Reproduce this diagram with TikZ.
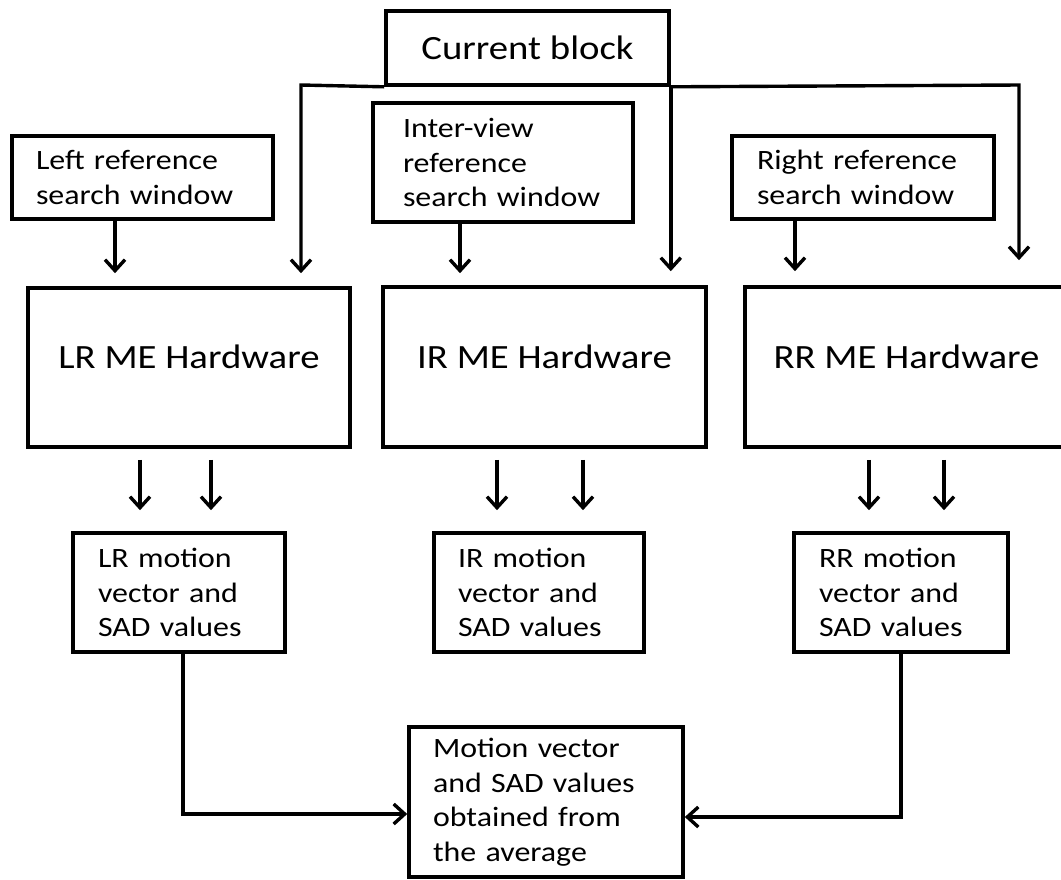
\documentclass[tikz,border=0pt]{standalone}
\usepackage{fontspec}
\setmainfont{Carlito}[FakeStretch=1.14]
\usetikzlibrary{arrows.meta,calc}
\begin{document}
\begin{tikzpicture}[x=1pt,y=-1pt,
  box/.style={draw, line width=3.6pt, inner ysep=0pt, align=left, font=\fontsize{28}{34.5}\selectfont},
  big/.style={draw, line width=3.6pt, inner sep=0pt, align=center, font=\fontsize{34}{40}\selectfont},
  arr/.style={line width=3.4pt, -{Straight Barb[length=11pt,width=20pt]}}]
\fill[white] (0,0) rectangle (1061,879);
\useasboundingbox (0,0) rectangle (1061,879);
\clip (0,0) rectangle (1061,879);

% current block
\node[big, minimum width=283pt, minimum height=74pt] (cur) at (527.5,48) {Current block};
\coordinate (jl) at (301,85);
\coordinate (jr) at (1019,85);

% reference windows
\node[box, minimum height=83pt, text width=213pt, inner xsep=24pt] (LRef) at (142.5,177.5) {Left reference\\search window};
\node[box, minimum height=119pt, text width=200pt, inner xsep=30pt] (IRef) at (503,162.5) {Inter-view\\reference\\search window};
\node[box, minimum height=83pt, text width=212pt, inner xsep=25pt] (RRef) at (863,177.5) {Right reference\\search window};

% ME hardware
\node[big, minimum width=322pt, minimum height=159pt] (LRME) at (189,367.5) {\raisebox{21pt}{LR ME Hardware}};
\node[big, minimum width=323pt, minimum height=160pt] (IRME) at (544.5,367) {\raisebox{21pt}{IR ME Hardware}};
\node[big, minimum width=323pt, minimum height=160pt] (RRME) at (906.5,367) {\raisebox{21pt}{RR ME Hardware}};

% motion vector boxes
\node[box, minimum height=119pt, text width=162pt, inner xsep=25pt] (LRmv) at (179,592.5) {LR motion\\vector and\\SAD values};
\node[box, minimum height=119pt, text width=162pt, inner xsep=24pt] (IRmv) at (539,592.5) {IR motion\\vector and\\SAD values};
\node[box, minimum height=119pt, text width=164pt, inner xsep=25pt] (RRmv) at (901,592.5) {RR motion\\vector and\\SAD values};

% final
\node[box, minimum height=150pt, text width=226pt, inner xsep=24pt] (Final) at (546,802) {Motion vector\\and SAD values\\obtained from\\the average};

% current block distribution
\draw[arr, shorten >=13pt] (cur.south west) -- (jl) -- (jl |- LRME.north);
\draw[arr, shorten >=14pt] (cur.south east) -- (cur.south east |- IRME.north);
\draw[arr, shorten >=25pt] (cur.south east) -- (jr) -- (jr |- RRME.north);

% reference arrows
\draw[arr, shorten >=13pt] ($(LRef.south)+(-27.5,0)$) -- ($(LRef.south |- LRME.north)+(-27.5,0)$);
\draw[arr, shorten >=12pt] ($(IRef.south)+(-43,0)$) -- ($(IRef.south |- IRME.north)+(-43,0)$);
\draw[arr, shorten >=14pt] ($(RRef.south)+(-68,0)$) -- ($(RRef.south |- RRME.north)+(-68,0)$);

% output pairs
\draw[arr] ($(LRME.south)+(-49,11)$) -- ($(LRME.south |- LRmv.north)+(-49,-21)$);
\draw[arr] ($(LRME.south)+(22,11)$) -- ($(LRME.south |- LRmv.north)+(22,-21)$);
\draw[arr] ($(IRME.south)+(-47.5,11)$) -- ($(IRME.south |- IRmv.north)+(-47.5,-21)$);
\draw[arr] ($(IRME.south)+(38.5,11)$) -- ($(IRME.south |- IRmv.north)+(38.5,-21)$);
\draw[arr] ($(RRME.south)+(-37.5,11)$) -- ($(RRME.south |- RRmv.north)+(-37.5,-21)$);
\draw[arr] ($(RRME.south)+(37.5,11)$) -- ($(RRME.south |- RRmv.north)+(37.5,-21)$);

% to final
\draw[arr] ($(LRmv.south)+(4,0)$) |- ($(Final.west)+(0,12)$);
\draw[arr] (RRmv.south) |- ($(Final.east)+(0,15)$);
\end{tikzpicture}
\end{document}
